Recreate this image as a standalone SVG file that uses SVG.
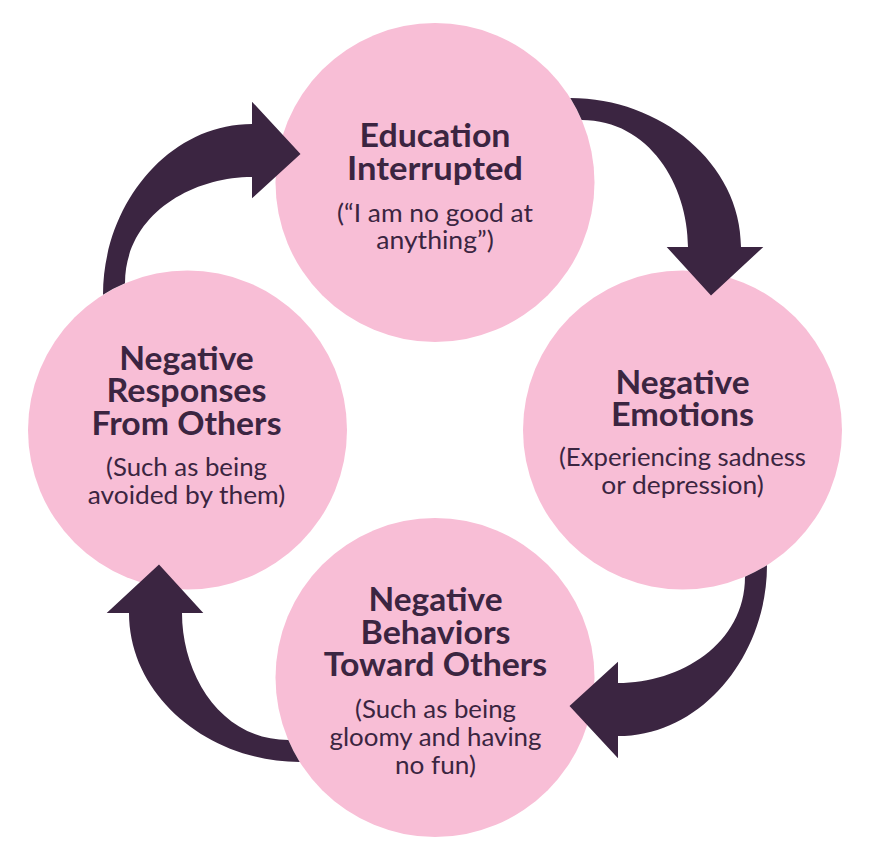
<svg xmlns="http://www.w3.org/2000/svg" width="872" height="853" viewBox="0 0 872 853">
<style>
.node{fill:#F8BED6}
.arrow{fill:#3B2541}
.t{font-family:Lato,'Open Sans','Liberation Sans',sans-serif;font-weight:700;font-size:32px;fill:#3B2541;text-anchor:middle}
.s{font-family:Lato,'Open Sans','Liberation Sans',sans-serif;font-weight:400;font-size:25.5px;fill:#3B2541;text-anchor:middle}
</style>
<rect width="872" height="853" fill="#FFFFFF"/>
<g id="node-education">
<circle class="node" cx="435" cy="182.5" r="159.5"/>
<text class="t" x="435" y="147" textLength="151" lengthAdjust="spacingAndGlyphs">Education</text>
<text class="t" x="435" y="179.5" textLength="176" lengthAdjust="spacingAndGlyphs">Interrupted</text>
<text class="s" x="435" y="221.5" textLength="196" lengthAdjust="spacingAndGlyphs">(“I am no good at</text>
<text class="s" x="435" y="249" textLength="117.5" lengthAdjust="spacingAndGlyphs">anything”)</text>
</g>
<g id="node-emotions">
<circle class="node" cx="682.5" cy="430" r="159.5"/>
<text class="t" x="682.5" y="393.5" textLength="134" lengthAdjust="spacingAndGlyphs">Negative</text>
<text class="t" x="682.5" y="426" textLength="143" lengthAdjust="spacingAndGlyphs">Emotions</text>
<text class="s" x="682.5" y="466" textLength="247" lengthAdjust="spacingAndGlyphs">(Experiencing sadness</text>
<text class="s" x="682.5" y="493.5" textLength="162.5" lengthAdjust="spacingAndGlyphs">or depression)</text>
</g>
<g id="node-behaviors">
<circle class="node" cx="435" cy="677.5" r="159.5"/>
<text class="t" x="435.5" y="611" textLength="134" lengthAdjust="spacingAndGlyphs">Negative</text>
<text class="t" x="435.5" y="643.5" textLength="150" lengthAdjust="spacingAndGlyphs">Behaviors</text>
<text class="t" x="435.5" y="676" textLength="223.5" lengthAdjust="spacingAndGlyphs">Toward Others</text>
<text class="s" x="435.5" y="717.5" textLength="161" lengthAdjust="spacingAndGlyphs">(Such as being</text>
<text class="s" x="435.5" y="745.5" textLength="212" lengthAdjust="spacingAndGlyphs">gloomy and having</text>
<text class="s" x="435.5" y="773.5" textLength="81" lengthAdjust="spacingAndGlyphs">no fun)</text>
</g>
<g id="node-responses">
<circle class="node" cx="187.5" cy="430" r="159.5"/>
<text class="t" x="186.5" y="369.5" textLength="134.5" lengthAdjust="spacingAndGlyphs">Negative</text>
<text class="t" x="186.5" y="402" textLength="160" lengthAdjust="spacingAndGlyphs">Responses</text>
<text class="t" x="186.5" y="434.5" textLength="190" lengthAdjust="spacingAndGlyphs">From Others</text>
<text class="s" x="186.5" y="476" textLength="161" lengthAdjust="spacingAndGlyphs">(Such as being</text>
<text class="s" x="186.5" y="503.5" textLength="197.5" lengthAdjust="spacingAndGlyphs">avoided by them)</text>
</g>
<g id="connectors">
<path id="arrow-responses-education" class="arrow" d="M252 124 L252 101.7 L300.5 154 L252 198.3 L252 177 C190 177 125 216 125 283.3 A159.5 159.5 0 0 0 103 294.7 C103 205 168 124 252 124 Z"/>
<path id="arrow-education-emotions" class="arrow" transform="rotate(90 435 430)" d="M252 124 L252 101.7 L300.5 154 L252 198.3 L252 177 C190 177 125 216 125 283.3 A159.5 159.5 0 0 0 103 294.7 C103 205 168 124 252 124 Z"/>
<path id="arrow-emotions-behaviors" class="arrow" transform="rotate(180 435 430)" d="M252 124 L252 101.7 L300.5 154 L252 198.3 L252 177 C190 177 125 216 125 283.3 A159.5 159.5 0 0 0 103 294.7 C103 205 168 124 252 124 Z"/>
<path id="arrow-behaviors-responses" class="arrow" transform="rotate(270 435 430)" d="M252 124 L252 101.7 L300.5 154 L252 198.3 L252 177 C190 177 125 216 125 283.3 A159.5 159.5 0 0 0 103 294.7 C103 205 168 124 252 124 Z"/>
</g>
</svg>
